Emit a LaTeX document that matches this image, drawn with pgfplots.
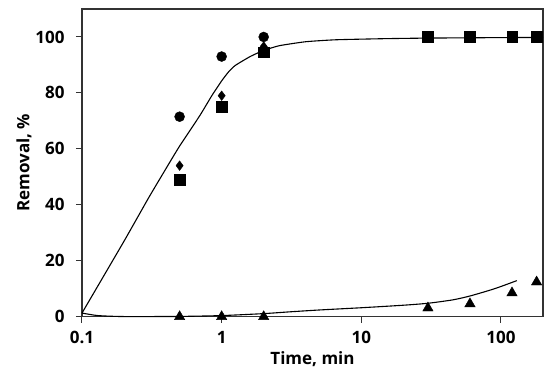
\documentclass[border=0pt]{standalone}
\usepackage{fontspec}
\setmainfont{Open Sans}
\usepackage{pgfplots}
\pgfplotsset{compat=1.18}
\begin{document}
\begin{tikzpicture}
\useasboundingbox (-82pt,-73.3pt) rectangle (468pt,316.7pt);
\begin{axis}[
  scale only axis, width=461pt, height=307.7pt,
  xmode=log, xmin=0.1, xmax=200, ymin=0, ymax=110,
  log basis x=10,
  xtick={0.1,1,10,100}, xticklabels={0.1,1,10,100},
  ytick={0,20,40,60,80,100},
  minor xtick={}, minor ytick={},
  tick align=outside, xtick pos=bottom, ytick pos=left,
  major tick length=6pt,
  axis line style={line width=1.1pt, black!80},
  every tick/.style={line width=1pt, black!80},
  /pgf/number format/assume math mode=true,
  ticklabel style={font=\fontsize{17}{20}\selectfont\bfseries},
  label style={font=\fontsize{17}{20}\selectfont\bfseries},
  xlabel={Time, min}, ylabel={Removal, \%},
  xticklabel style={yshift=-5pt},
  yticklabel style={xshift=-8pt},
  xlabel style={yshift=-1pt},
  ylabel style={yshift=-3pt},
  clip=false,
]
% fitted upper curve
\addplot[black, line width=1.1pt, smooth, tension=0.3] coordinates {
 (0.1,1.3) (0.2,27) (0.3,42.5) (0.4,53) (0.5,61) (0.7,72)
 (0.85,79) (1,84.3) (1.12,87.5) (1.25,89.8) (1.6,93) (2,95.2) (2.6,96.9) (4,98.3) (6.6,99)
 (15,99.4) (30,99.6) (60,99.7) (120,99.8) (200,99.8)};
% fitted lower curve
\addplot[black, line width=1.1pt, smooth, tension=0.4] coordinates {
 (0.1,1.3) (0.13,0.4) (0.2,0.05) (0.5,0.1) (1,0.4) (2,1.1) (3,1.7)
 (5,2.4) (10,3.2) (20,4.1) (30,4.8) (45,6) (60,7.4) (90,10) (130,12.9)};
% diamonds
\addplot[only marks, mark=diamond*, mark size=4.8pt, black] coordinates {
 (0.5,54) (1,79) (2,96.6)};
% circles
\addplot[only marks, mark=*, mark size=5pt, black] coordinates {
 (0.5,71.5) (1,93) (2,100)};
% squares
\addplot[only marks, mark=square*, mark size=5.3pt, black] coordinates {
 (0.5,49) (1,75) (2,94.5) (30,100) (60,100) (120,100) (180,100)};
% triangles
\addplot[only marks, mark=triangle*, mark size=6pt, black] coordinates {
 (0.5,0) (1,0) (2,0) (30,3.1) (60,4.6) (120,8.5) (180,12.4)};
\end{axis}
\end{tikzpicture}
\end{document}
